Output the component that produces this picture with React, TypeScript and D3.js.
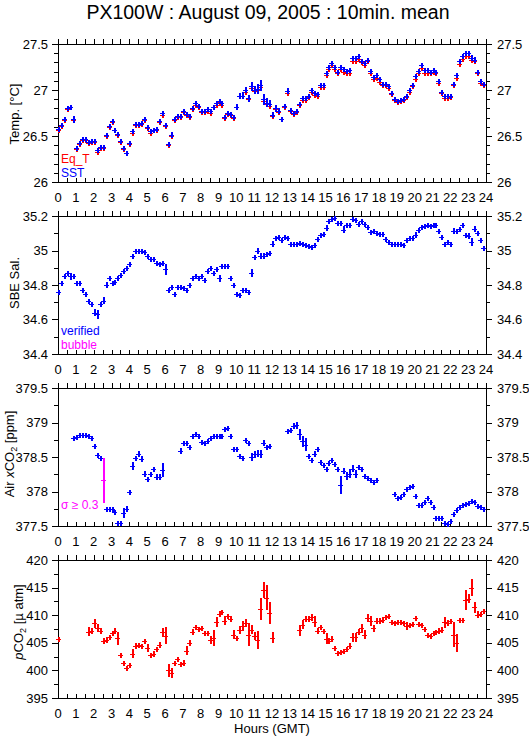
import React from 'react';
import * as d3 from 'd3';

// ---------- DATA (10-minute means, slot i = hour i/6) ----------
const hourTicks = d3.range(0, 25);

const sstValues = [
  26.58, 26.62, 26.68, 26.80, 26.82, 26.68, 26.37, 26.42, 26.47, 26.47,
  26.43, 26.45, 26.45, 26.35, 26.38, 26.38, 26.51, 26.61, 26.66, 26.57,
  26.52, 26.45, 26.37, 26.32, 26.42, 26.55, 26.63, 26.63, 26.64, 26.68,
  26.60, 26.55, 26.57, 26.58, 26.66, 26.75, 26.62, 26.41, 26.51, 26.68,
  26.72, 26.72, 26.77, 26.74, 26.72, 26.80, 26.86, 26.83, 26.77, 26.77,
  26.79, 26.77, 26.82, 26.86, 26.88, 26.86, 26.71, 26.75, 26.74, 26.71,
  26.82, 26.94, 26.94, 27.00, 26.91, 27.04, 27.00, 27.01, 27.05, 26.90,
  26.86, 26.85,
  26.73, 26.80, 26.77, 26.69, 26.83, 26.99, 26.78, 26.75, 26.77, 26.85,
  26.91, 26.91, 26.93, 27.00, 26.97, 26.96, 27.05, 27.05, 27.18, 27.25,
  27.29, 27.25, 27.20, 27.25, 27.23, 27.21, 27.22, 27.35, 27.35, 27.37,
  27.32, 27.29, 27.33, 27.21, 27.14, 27.16, 27.12, 27.07, 27.06, 27.04,
  26.97, 26.90, 26.88, 26.89, 26.90, 26.93, 27.00, 27.05, 27.15, 27.21,
  27.27, 27.22, 27.22, 27.20, 27.22, 27.20, 27.10, 26.98, 26.93, 26.93,
  26.93, 27.07, 27.16, 27.31, 27.37, 27.40, 27.40, 27.35, 27.33, 27.20,
  27.10, 27.06,
];

const sstStd = [
  0.01, 0.01, 0.01, 0.01, 0.01, 0.035, 0.02, 0.015, 0.01, 0.01,
  0.01, 0.01, 0.015, 0.025, 0.02, 0.02, 0.01, 0.01, 0.01, 0.01,
  0.01, 0.01, 0.015, 0.01, 0.01, 0.015, 0.015, 0.01, 0.01, 0.01,
  0.01, 0.01, 0.01, 0.01, 0.015, 0.01, 0.02, 0.01, 0.03, 0.01,
  0.01, 0.01, 0.01, 0.01, 0.01, 0.01, 0.01, 0.01, 0.01, 0.01,
  0.01, 0.01, 0.015, 0.02, 0.02, 0.015, 0.015, 0.01, 0.01, 0.015,
  0.03, 0.03, 0.035, 0.03, 0.04, 0.05, 0.04, 0.05, 0.06, 0.06,
  0.05, 0.04,
  0.03, 0.04, 0.03, 0.02, 0.02, 0.03, 0.01, 0.01, 0.02, 0.02,
  0.015, 0.015, 0.01, 0.02, 0.015, 0.01, 0.01, 0.015, 0.025, 0.015,
  0.015, 0.015, 0.01, 0.015, 0.01, 0.01, 0.01, 0.015, 0.01, 0.01,
  0.01, 0.01, 0.02, 0.01, 0.01, 0.02, 0.01, 0.01, 0.01, 0.01,
  0.01, 0.01, 0.01, 0.01, 0.01, 0.01, 0.01, 0.01, 0.01, 0.01,
  0.01, 0.01, 0.015, 0.01, 0.01, 0.02, 0.02, 0.01, 0.015, 0.015,
  0.015, 0.01, 0.01, 0.02, 0.02, 0.01, 0.01, 0.03, 0.025, 0.02,
  0.015, 0.01,
];

const eqtValues = [
  26.57, 26.61, 26.67, 26.79, 26.81, 26.67, 26.36, 26.41, 26.46, 26.46,
  26.42, 26.44, 26.44, 26.33, 26.37, 26.37, 26.50, 26.60, 26.65, 26.56,
  26.51, 26.44, 26.36, 26.31, 26.41, 26.53, 26.62, 26.62, 26.63, 26.67,
  26.59, 26.53, 26.56, 26.57, 26.65, 26.73, 26.61, 26.40, 26.50, 26.67,
  26.71, 26.71, 26.76, 26.73, 26.71, 26.79, 26.84, 26.82, 26.76, 26.76,
  26.77, 26.75, 26.81, 26.84, 26.87, 26.84, 26.70, 26.74, 26.73, 26.70,
  26.81, 26.93, 26.93, 26.98, 26.90, 27.02, 26.99, 27.00, 27.03, 26.88,
  26.85, 26.83,
  26.72, 26.79, 26.76, 26.68, 26.82, 26.97, 26.77, 26.74, 26.76, 26.84,
  26.89, 26.89, 26.92, 26.98, 26.95, 26.94, 27.03, 27.03, 27.16, 27.23,
  27.27, 27.23, 27.18, 27.23, 27.20, 27.18, 27.18, 27.32, 27.32, 27.34,
  27.30, 27.27, 27.31, 27.19, 27.12, 27.13, 27.09, 27.05, 27.05, 27.02,
  26.96, 26.89, 26.87, 26.88, 26.89, 26.92, 26.98, 27.04, 27.12, 27.19,
  27.24, 27.19, 27.19, 27.18, 27.20, 27.18, 27.08, 26.97, 26.91, 26.91,
  26.92, 27.05, 27.13, 27.28, 27.34, 27.37, 27.37, 27.33, 27.32, 27.18,
  27.08, 27.05,
];

const salValues = [
  34.76, 34.81, 34.85, 34.87, 34.85, 34.855, 34.81, 34.81, 34.77, 34.75,
  34.71, 34.69, 34.64, 34.63, 34.69, 34.71, 34.80, 34.84, 34.81, 34.82,
  34.84, 34.86, 34.88, 34.90, 34.92, 34.97, 35.00, 35.00, 35.00, 34.99,
  34.97, 34.95, 34.95, 34.93, 34.92, 34.93, 34.89, 34.77, 34.79, 34.75,
  34.79, 34.79, 34.785, 34.77, 34.80, 34.84, 34.85, 34.84, 34.85, 34.83,
  34.88, 34.90, 34.87, 34.89, 34.84, 34.91, 34.91, 34.91, 34.84, 34.80,
  34.75, 34.74, 34.77, 34.77, 34.76, 34.87, 34.96, 35.00, 34.97, 34.97,
  34.98, 34.985,
  35.04, 35.07, 35.08, 35.06, 35.08, 35.07, 35.04, 35.035, 35.04, 35.045,
  35.035, 35.03, 35.025, 35.02, 35.03, 35.065, 35.09, 35.095, 35.13, 35.17,
  35.18, 35.19, 35.16, 35.16, 35.12, 35.15, 35.145, 35.18, 35.175, 35.155,
  35.17, 35.155, 35.135, 35.105, 35.115, 35.10, 35.095, 35.093, 35.065, 35.05,
  35.04, 35.04, 35.04, 35.035, 35.03, 35.06, 35.07, 35.07, 35.09, 35.12,
  35.135, 35.14, 35.145, 35.14, 35.145, 35.145, 35.115, 35.08, 35.04, 35.05,
  35.04, 35.115, 35.115, 35.125, 35.15, 35.09, 35.085, 35.05, 35.125, 35.10,
  35.06, 35.015,
];

const salStd = [
  0.01, 0.015, 0.005, 0.01, 0.02, 0.01, 0.005, 0.005, 0.005, 0.005,
  0.01, 0.01, 0.02, 0.025, 0.01, 0.02, 0.015, 0.01, 0.005, 0.005,
  0.005, 0.005, 0.005, 0.005, 0.005, 0.01, 0.005, 0.005, 0.005, 0.005,
  0.005, 0.005, 0.005, 0.005, 0.005, 0.01, 0.03, 0.01, 0.01, 0.01,
  0.005, 0.005, 0.005, 0.01, 0.01, 0.005, 0.015, 0.005, 0.01, 0.01,
  0.01, 0.005, 0.01, 0.01, 0.02, 0.005, 0.005, 0.01, 0.015, 0.01,
  0.01, 0.01, 0.005, 0.01, 0.01, 0.025, 0.015, 0.015, 0.015, 0.015,
  0.01, 0.01,
  0.015, 0.01, 0.01, 0.01, 0.005, 0.01, 0.01, 0.01, 0.005, 0.005,
  0.005, 0.005, 0.005, 0.005, 0.005, 0.01, 0.005, 0.01, 0.015, 0.015,
  0.01, 0.005, 0.01, 0.01, 0.02, 0.01, 0.01, 0.005, 0.01, 0.01,
  0.005, 0.01, 0.01, 0.01, 0.005, 0.005, 0.005, 0.005, 0.01, 0.005,
  0.005, 0.005, 0.005, 0.005, 0.005, 0.01, 0.01, 0.005, 0.015, 0.005,
  0.005, 0.005, 0.005, 0.005, 0.005, 0.005, 0.01, 0.005, 0.01, 0.005,
  0.005, 0.015, 0.01, 0.01, 0.01, 0.01, 0.015, 0.025, 0.015, 0.015,
  0.015, 0.01,
];

const airValues = [
  null, null, null, null, null, 378.78, 378.79, 378.82, 378.82, 378.82,
  378.80, 378.77, 378.66, 378.53, 378.48, 378.16, 377.74, 377.74, 377.74, 377.70,
  377.54, 377.54, 377.69, 377.75, 377.99, 378.37, 378.48, 378.55, 378.47, 378.26,
  378.18, 378.25, 378.32, 378.21, 378.21, 378.31, null, null, null, null,
  null, 378.59, 378.70, 378.71, 378.64, 378.80, 378.83, 378.80, 378.72, 378.70,
  378.73, 378.77, 378.80, 378.80, 378.80, 378.80, 378.90, 378.92, 378.80, 378.61,
  378.61, 378.51, 378.49, 378.74, 378.70, 378.50, 378.54, 378.55, 378.54, 378.71,
  378.65, 378.66,
  null, null, null, null, null, 378.87, 378.89, 378.95, 378.96, 378.83,
  378.73, 378.68, 378.52, 378.45, 378.54, 378.61, 378.43, 378.38, 378.33, 378.42,
  378.45, 378.40, 378.33, 378.09, 378.30, 378.22, 378.26, 378.33, 378.25, 378.35,
  378.32, 378.23, 378.20, 378.17, 378.14, 378.17, null, null, null, null,
  null, 377.96, 377.90, 377.92, 377.96, 378.03, 378.07, 378.08, 377.93, 377.81,
  377.80, 377.85, 377.90, 377.85, 377.78, 377.61, 377.61, 377.61, 377.55, 377.53,
  377.57, 377.67, 377.73, 377.77, 377.81, 377.82, 377.84, 377.86, 377.85, 377.79,
  377.77, 377.74,
];

const airStd = [
  0, 0, 0, 0, 0, 0.015, 0.015, 0.015, 0.015, 0.015,
  0.015, 0.015, 0.025, 0.03, 0.015, 0.32, 0.02, 0.02, 0.02, 0.03,
  0.015, 0.015, 0.07, 0.04, 0.03, 0.06, 0.02, 0.03, 0.04, 0.03,
  0.03, 0.03, 0.04, 0.04, 0.05, 0.1, 0, 0, 0, 0,
  0, 0.04, 0.02, 0.02, 0.015, 0.04, 0.03, 0.03, 0.015, 0.02,
  0.02, 0.03, 0.02, 0.02, 0.02, 0.02, 0.03, 0.03, 0.04, 0.02,
  0.02, 0.03, 0.03, 0.02, 0.02, 0.06, 0.05, 0.05, 0.06, 0.03,
  0.03, 0.02,
  0, 0, 0, 0, 0, 0.03, 0.03, 0.05, 0.05, 0.08,
  0.08, 0.1, 0.03, 0.02, 0.04, 0.04, 0.02, 0.02, 0.015, 0.02,
  0.02, 0.02, 0.02, 0.13, 0.04, 0.06, 0.06, 0.05, 0.06, 0.02,
  0.015, 0.02, 0.015, 0.015, 0.02, 0.02, 0, 0, 0, 0,
  0, 0.02, 0.02, 0.02, 0.03, 0.03, 0.03, 0.02, 0.03, 0.02,
  0.03, 0.03, 0.02, 0.02, 0.02, 0.03, 0.03, 0.02, 0.015, 0.015,
  0.03, 0.02, 0.02, 0.015, 0.015, 0.015, 0.015, 0.015, 0.015, 0.02,
  0.02, 0.025,
];

const pco2Values = [
  405.7, null, null, null, null, null, null, null, null, null,
  407.0, 407.2, 408.5, 407.7, 407.2, 405.4, 405.5, 406.0, 406.8, 407.2,
  405.8, 402.7, 401.4, 400.4, 400.9, 403.0, 404.5, 404.6, 404.4, 405.3,
  404.1, 402.7, 403.0, 403.8, 404.6, 406.9, 406.3, 400.0, 399.5, 401.3,
  402.0, 401.2, 401.4, 403.6, 405.0, 407.0, 407.8, 407.5, 407.6, 406.8,
  406.7, 405.5, 405.9, 408.8, 410.3, 410.5, 409.0, 409.8, 409.4, 406.5,
  405.8, 407.3, 408.1, 408.6, 406.5, 407.4, 406.2, 405.5, 411.2, 414.6,
  413.2, 410.4,
  405.9, null, null, null, null, null, null, null, null, 407.3,
  408.3, 409.4, 409.4, 409.6, 408.8, 407.2, 407.8, 407.1, 405.7, 405.4,
  405.7, 404.1, 403.2, 403.3, 403.5, 403.8, 404.5, 406.0, 406.0, 407.0,
  407.6, 406.5, 409.5, 409.0, 407.6, 409.0, 409.0, 409.2, 409.6, 409.8,
  408.8, 408.6, 408.8, 408.8, 408.6, 408.0, 408.2, 408.4, 409.5, 408.4,
  408.3, 407.5, 406.5, 406.3, 406.8, 407.0, 407.2, 407.4, 408.7, 408.6,
  409.0, 406.5, 405.0, 409.1, 409.1, 412.8, 413.0, 415.0, 411.4, 410.1,
  410.2, 410.7,
];

const pco2Std = [
  0.3, 0, 0, 0, 0, 0, 0, 0, 0, 0,
  0.8, 0.5, 0.9, 0.7, 0.4, 0.4, 0.6, 0.5, 0.4, 0.4,
  1.2, 0.4, 0.3, 0.3, 0.5, 0.8, 0.4, 0.3, 0.3, 0.4,
  0.7, 0.4, 0.5, 0.4, 0.6, 0.8, 1.5, 1.2, 0.9, 0.4,
  0.3, 0.4, 0.5, 0.8, 0.5, 0.5, 0.4, 0.3, 0.4, 0.4,
  0.4, 0.8, 1.4, 0.9, 0.5, 0.5, 0.8, 0.5, 0.4, 0.9,
  0.5, 0.7, 0.9, 0.8, 2.0, 0.8, 0.7, 1.6, 2.0, 1.4,
  2.2, 2.0,
  1.0, 0, 0, 0, 0, 0, 0, 0, 0, 1.0,
  0.8, 0.5, 0.5, 0.7, 1.0, 0.5, 0.5, 0.4, 1.0, 0.5,
  0.5, 0.4, 0.3, 0.3, 0.3, 0.5, 0.5, 0.8, 0.8, 0.5,
  0.8, 0.8, 0.7, 0.9, 0.6, 0.5, 0.5, 0.5, 0.4, 0.4,
  0.3, 0.3, 0.3, 0.3, 0.3, 0.7, 0.4, 0.3, 0.4, 0.3,
  0.3, 0.4, 0.3, 0.3, 0.4, 0.4, 0.4, 0.4, 1.0, 0.5,
  0.3, 2.2, 1.6, 0.4, 0.4, 1.8, 0.8, 1.5, 1.0, 0.6,
  0.4, 0.3,
];

const tempTicks = [26, 26.5, 27, 27.5];
const salTicks = [34.4, 34.6, 34.8, 35, 35.2];
const airTicks = [377.5, 378, 378.5, 379, 379.5];
const pco2Ticks = [395, 400, 405, 410, 415, 420];

// ---------- LAYOUT ----------
const W = 529;
const H = 739;
const LEFT = 58;
const RIGHT = 486;
const PANEL_H = 138;
const FONT = "'Liberation Sans', Arial, Helvetica, sans-serif";
const BLUE = '#0000ff';
const RED = '#ff0000';
const MAGENTA = '#ff00ff';

const x = d3.scaleLinear().domain([0, 24]).range([LEFT, RIGHT]);
const slotHour = (i: number) => i / 6;

type Series = { values: (number | null)[]; std: number[]; color: string; sigmaColor?: string };
type Panel = {
  top: number;
  ticks: number[];
  minorStep: number;
  series: Series[];
  labelCenterY: number;
  labelX: number;
  label: React.ReactNode;
  legend: { text: React.ReactNode; color: string; y: number }[];
};

const panels: Panel[] = [
  {
    top: 44,
    ticks: tempTicks,
    minorStep: 0.1,
    series: [
      { values: eqtValues, std: sstStd.map(() => 0.004), color: RED },
      { values: sstValues, std: sstStd, color: BLUE },
    ],
    labelCenterY: 114,
    labelX: 19,
    label: 'Temp. [°C]',
    legend: [
      { text: 'Eq_T', color: RED, y: 163 },
      { text: 'SST', color: BLUE, y: 177 },
    ],
  },
  {
    top: 216,
    ticks: salTicks,
    minorStep: 0.1,
    series: [{ values: salValues, std: salStd, color: BLUE }],
    labelCenterY: 283,
    labelX: 19,
    label: 'SBE Sal.',
    legend: [
      { text: 'verified', color: BLUE, y: 335 },
      { text: 'bubble', color: MAGENTA, y: 349 },
    ],
  },
  {
    top: 388,
    ticks: airTicks,
    minorStep: 0.25,
    series: [{ values: airValues, std: airStd, color: BLUE, sigmaColor: MAGENTA }],
    labelCenterY: 454,
    labelX: 14,
    label: (
      <>
        Air <tspan fontStyle="italic">x</tspan>CO<tspan fontSize="9" dy="3">2</tspan>
        <tspan dy="-3"> [ppm]</tspan>
      </>
    ),
    legend: [{ text: 'σ ≥ 0.3', color: MAGENTA, y: 509 }],
  },
  {
    top: 560,
    ticks: pco2Ticks,
    minorStep: 2.5,
    series: [{ values: pco2Values, std: pco2Std, color: RED }],
    labelCenterY: 622,
    labelX: 23,
    label: (
      <>
        <tspan fontStyle="italic">p</tspan>CO<tspan fontSize="9" dy="3">2</tspan>
        <tspan dy="-3"> [µ atm]</tspan>
      </>
    ),
    legend: [],
  },
];

function PanelView({ p }: { p: Panel }) {
  const bottom = p.top + PANEL_H;
  const lo = p.ticks[0];
  const hi = p.ticks[p.ticks.length - 1];
  const y = d3.scaleLinear().domain([lo, hi]).range([bottom, p.top]);
  const minors = d3.range(lo, hi + 1e-9, p.minorStep);
  const halfHours = d3.range(0, 24.001, 0.5);
  const fmt = (v: number) => String(+v.toFixed(2));

  return (
    <g>
      <rect x={LEFT} y={p.top} width={RIGHT - LEFT} height={PANEL_H} fill="none" stroke="#000" strokeWidth={1} shapeRendering="crispEdges" />
      {halfHours.map((h) => (
        <g key={'xt' + h} stroke="#000" shapeRendering="crispEdges">
          <line x1={Math.round(x(h)) + 0.5} x2={Math.round(x(h)) + 0.5} y1={p.top} y2={p.top - 5} />
          <line x1={Math.round(x(h)) + 0.5} x2={Math.round(x(h)) + 0.5} y1={bottom} y2={bottom - 4} />
        </g>
      ))}
      {minors.map((v) => (
        <g key={'ym' + v} stroke="#000" shapeRendering="crispEdges">
          <line x1={LEFT} x2={LEFT - 4} y1={Math.round(y(v)) + 0.5} y2={Math.round(y(v)) + 0.5} />
          <line x1={RIGHT} x2={RIGHT + 4} y1={Math.round(y(v)) + 0.5} y2={Math.round(y(v)) + 0.5} />
        </g>
      ))}
      {p.ticks.map((v) => (
        <g key={'yt' + v} fontFamily={FONT} fontSize={13} fill="#000">
          <line x1={LEFT} x2={LEFT - 6} y1={Math.round(y(v)) + 0.5} y2={Math.round(y(v)) + 0.5} stroke="#000" shapeRendering="crispEdges" />
          <line x1={RIGHT} x2={RIGHT + 6} y1={Math.round(y(v)) + 0.5} y2={Math.round(y(v)) + 0.5} stroke="#000" shapeRendering="crispEdges" />
          <text x={LEFT - 10} y={y(v)} dy="0.36em" textAnchor="end">{fmt(v)}</text>
          <text x={RIGHT + 11} y={y(v)} dy="0.36em" textAnchor="start">{fmt(v)}</text>
        </g>
      ))}
      {hourTicks.map((h) => (
        <text key={'hl' + h} x={x(h)} y={bottom + 20} textAnchor="middle" fontFamily={FONT} fontSize={13}>{h}</text>
      ))}
      <text
        transform={`translate(${p.labelX},${p.labelCenterY}) rotate(-90)`}
        textAnchor="middle"
        fontFamily={FONT}
        fontSize={13}
      >
        {p.label}
      </text>
      {p.series.map((s, si) => (
        <g key={'s' + si} shapeRendering="crispEdges">
          {s.values.map((v, i) => {
            if (v == null) return null;
            const cx = Math.round(x(slotHour(i))) + 0.5;
            const cy = Math.round(y(v)) + 0.5;
            const sd = s.std[i] || 0;
            const color = s.sigmaColor && sd >= 0.3 ? s.sigmaColor : s.color;
            const yTop = Math.min(y(v + sd), cy - 2.5);
            const yBot = Math.max(y(v - sd), cy + 2.5);
            return (
              <g key={i} stroke={color}>
                <line x1={cx - 2.5} x2={cx + 2.5} y1={cy} y2={cy} strokeWidth={1} />
                <line x1={cx} x2={cx} y1={yTop} y2={yBot} strokeWidth={2} />
              </g>
            );
          })}
        </g>
      ))}
      {p.legend.map((l, li) => (
        <text key={'lg' + li} x={61} y={l.y} fill={l.color} fontFamily={FONT} fontSize={12}>{l.text}</text>
      ))}
    </g>
  );
}

export default function App() {
  return (
    <svg
      width={W}
      height={H}
      viewBox={`0 0 ${W} ${H}`}
      style={{ position: 'absolute', left: 0, top: 0, background: '#fff' }}
    >
      <rect x={0} y={0} width={W} height={H} fill="#fff" />
      <text x={268} y={19} textAnchor="middle" fontFamily={FONT} fontSize={19.5}>
        PX100W : August 09, 2005 : 10min. mean
      </text>
      {panels.map((p, i) => (
        <PanelView key={i} p={p} />
      ))}
      <text x={272} y={733} textAnchor="middle" fontFamily={FONT} fontSize={13}>Hours (GMT)</text>
    </svg>
  );
}
